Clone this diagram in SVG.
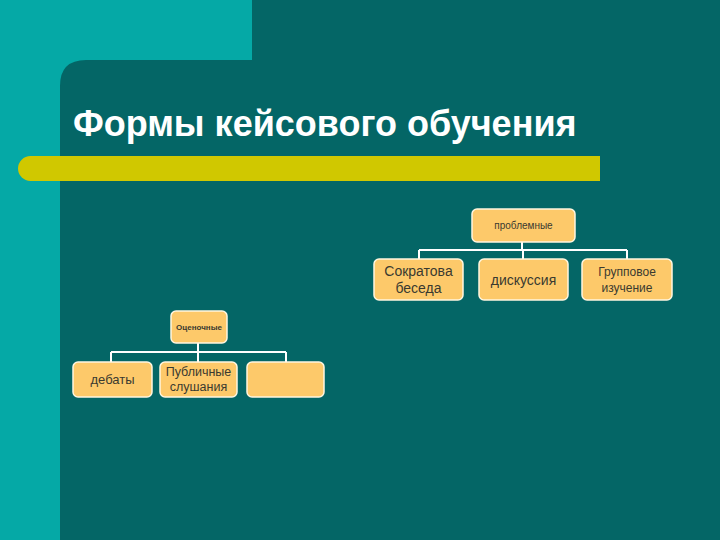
<svg xmlns="http://www.w3.org/2000/svg" width="720" height="540" viewBox="0 0 720 540">
<style>
.node rect{fill:#FDC96A;stroke:#FFF6E0;stroke-width:1.5}
.node text{font-family:"Liberation Sans",Arial,sans-serif;fill:#3A3A30;text-anchor:middle}
.conn{stroke:#FFFFFF;stroke-width:2;fill:none}
</style>
<rect x="0" y="0" width="720" height="540" fill="#05A9A6"/>
<path d="M252,0 H720 V540 H60 V86 Q60,60 86,60 H252 Z" fill="#046666"/>
<path d="M30.5,156 H600 V181 H30.5 A12.5,12.5 0 0 1 30.5,156 Z" fill="#D0C800"/>
<text x="73" y="136" font-family="'Liberation Sans',Arial,sans-serif" font-weight="bold" font-size="36" fill="#FFFFFF">Формы кейсового обучения</text>
<g id="connectors">
<path class="conn" d="M522,242 V250 M419,250 H627 M419,250 V259 M523,250 V259 M627,250 V259"/>
<path class="conn" d="M198,343 V352 M111,352 H286 M111,352 V362 M198,352 V362 M286,352 V362"/>
</g>
<g id="problemnye" class="node"><rect x="472" y="209" width="103" height="33" rx="5"/><text x="523.5" y="229" font-size="10">проблемные</text></g>
<g id="sokratova" class="node"><rect x="374" y="259" width="89" height="41" rx="5"/><text x="418.5" y="276" font-size="14">Сократова</text><text x="418.5" y="293" font-size="14">беседа</text></g>
<g id="diskussiya" class="node"><rect x="479" y="259" width="89" height="41" rx="5"/><text x="523.5" y="285" font-size="14">дискуссия</text></g>
<g id="gruppovoe" class="node"><rect x="582" y="259" width="90" height="41" rx="5"/><text x="627" y="276" font-size="12">Групповое</text><text x="627" y="292" font-size="12">изучение</text></g>
<g id="otsenochnye" class="node"><rect x="171" y="311" width="56" height="32" rx="5"/><text x="199" y="330" font-size="8" font-weight="bold">Оценочные</text></g>
<g id="debaty" class="node"><rect x="73" y="362" width="79" height="35" rx="5"/><text x="112.5" y="384" font-size="13">дебаты</text></g>
<g id="publichnye" class="node"><rect x="160" y="362" width="77" height="35" rx="5"/><text x="198.5" y="376" font-size="12.5">Публичные</text><text x="198.5" y="391" font-size="12.5">слушания</text></g>
<g id="empty" class="node"><rect x="247" y="362" width="77" height="35" rx="5"/></g>
</svg>
